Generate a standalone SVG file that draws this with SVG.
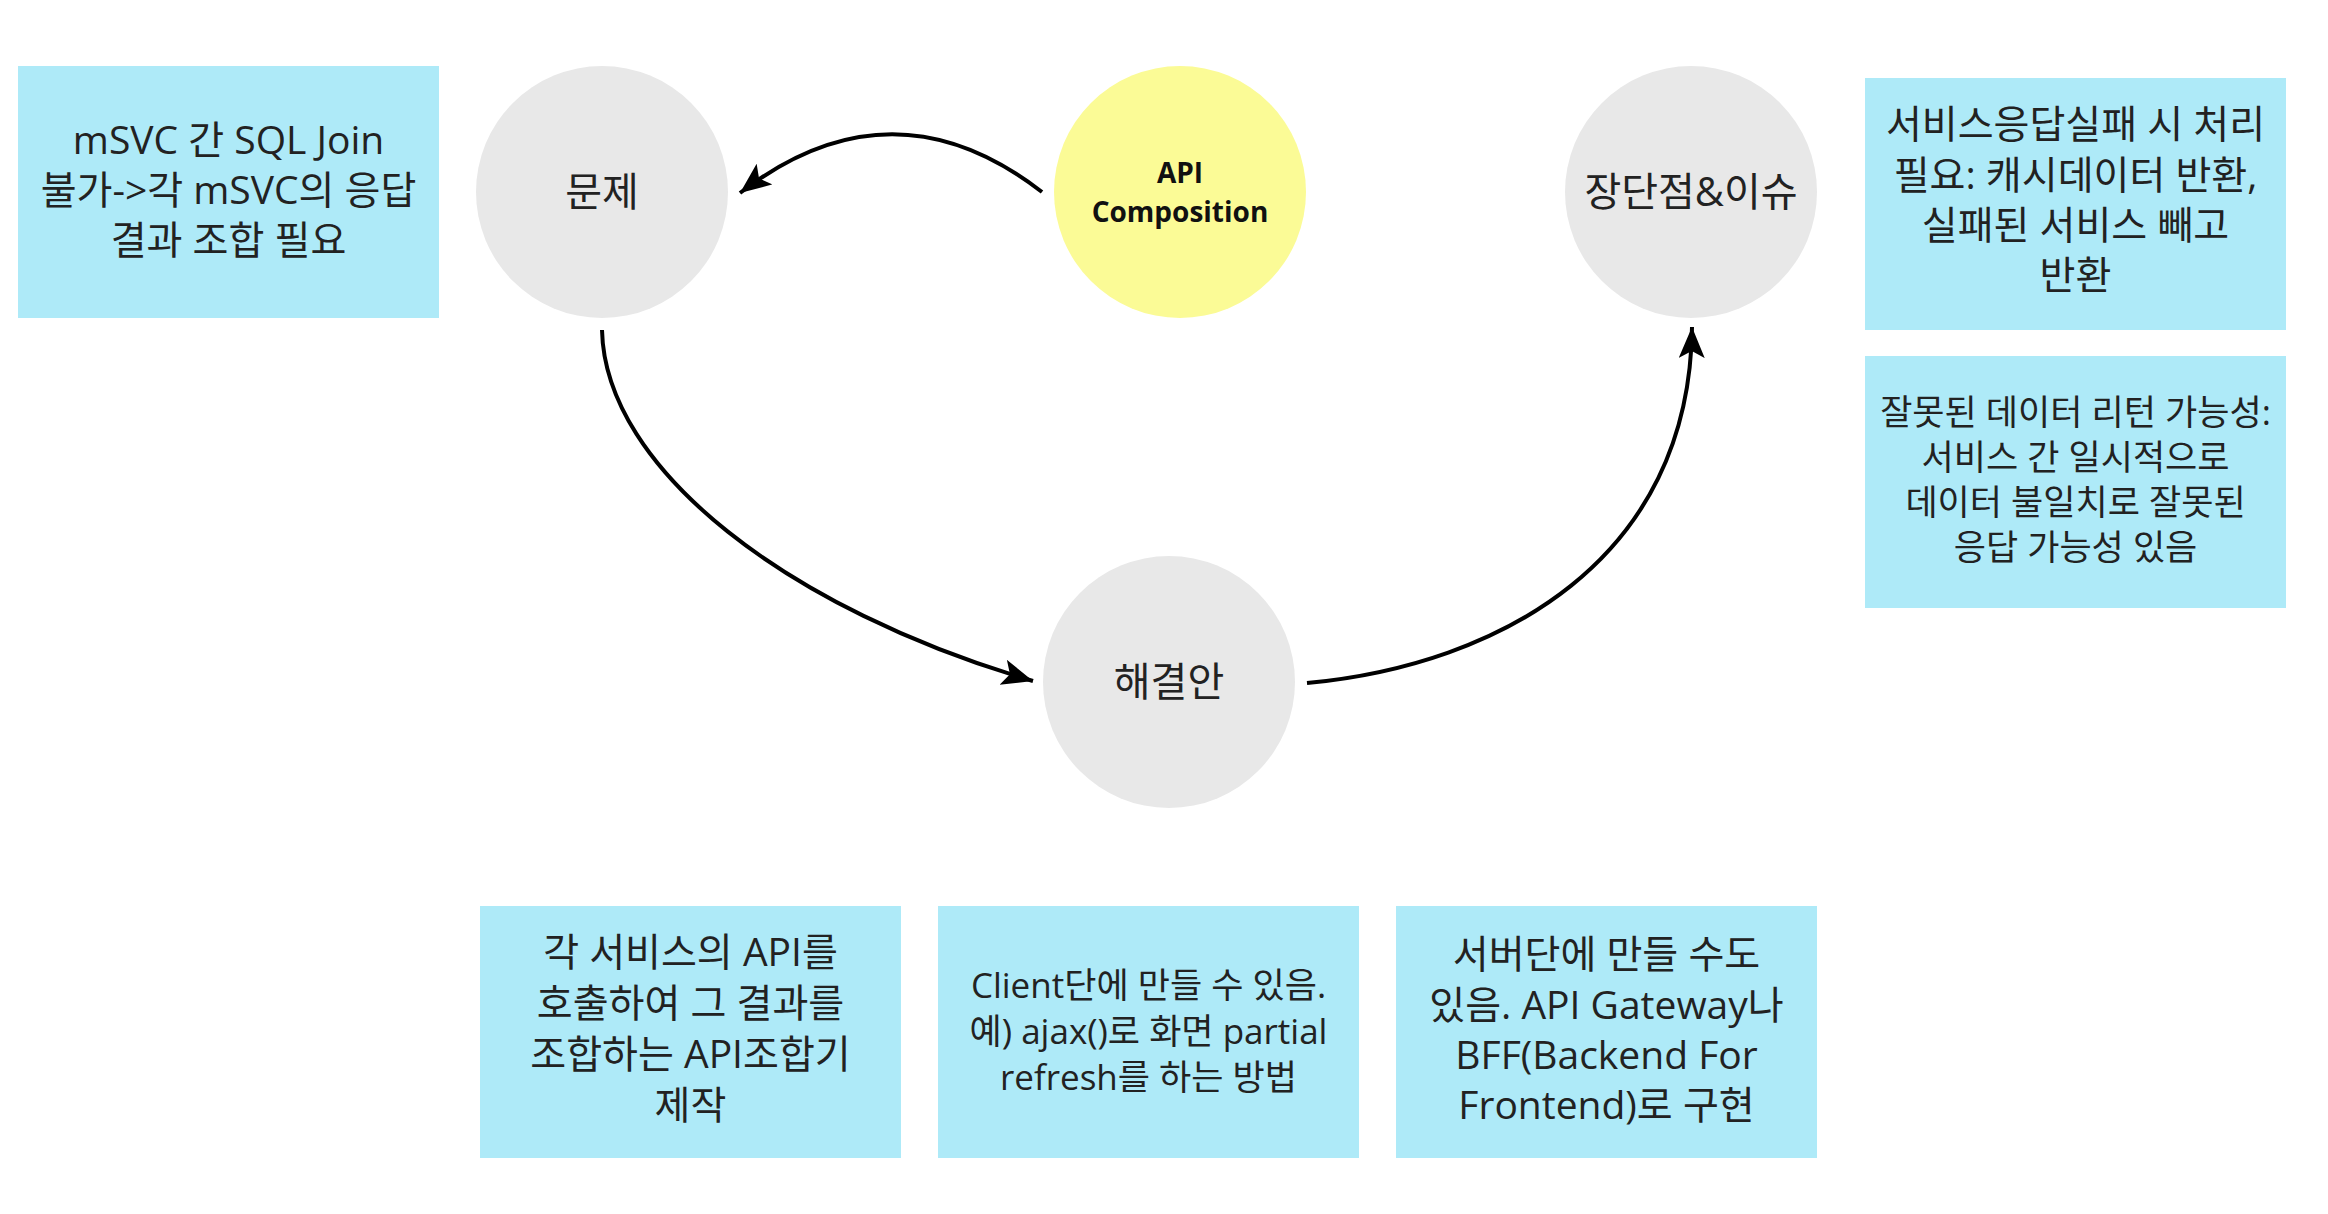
<svg xmlns="http://www.w3.org/2000/svg" width="2328" height="1214" viewBox="0 0 2328 1214">
<style>
.box{fill:#AEEAF8}
.circ{fill:#E8E8E8}
.yel{fill:#FBFB96}
text{font-family:"Open Sans","Noto Sans CJK KR",sans-serif;fill:#222;text-anchor:middle}
.t36{font-size:39px}
.t32{font-size:35px}
.lbl{font-size:40px}
.bold{font-family:"Open Sans","Noto Sans CJK KR",sans-serif;font-weight:bold;font-size:28px;fill:#111}
.edge{fill:none;stroke:#000;stroke-width:4}
</style>
<defs>
<marker id="arr" markerUnits="userSpaceOnUse" markerWidth="36" markerHeight="30" refX="31" refY="13" orient="auto">
<path d="M0,0 L31,13 L0,26 L7,13 Z" fill="#000"/>
</marker>
</defs>
<rect width="2328" height="1214" fill="#fff"/>
<g id="connectors">
<path class="edge" d="M1042,192 Q892,76 740,193" marker-end="url(#arr)"/>
<path class="edge" d="M602,330 C605,470 790,610 1033,681" marker-end="url(#arr)"/>
<path class="edge" d="M1307,683 C1500,665 1690,560 1692,327" marker-end="url(#arr)"/>
</g>
<g id="node-problem-note">
<rect class="box" x="18" y="66" width="421" height="252"/>
<text class="t36" x="228.5" y="154">mSVC 간 SQL Join</text>
<text class="t36" x="228.5" y="204">불가-&gt;각 mSVC의 응답</text>
<text class="t36" x="228.5" y="254">결과 조합 필요</text>
</g>
<g id="node-problem">
<circle class="circ" cx="602" cy="192" r="126"/>
<text class="lbl" x="602" y="206">문제</text>
</g>
<g id="node-api-composition">
<circle class="yel" cx="1180" cy="192" r="126"/>
<text class="bold" x="1180" y="183">API</text>
<text class="bold" x="1180" y="222">Composition</text>
</g>
<g id="node-issues">
<circle class="circ" cx="1691" cy="192" r="126"/>
<text class="lbl" x="1691" y="206">장단점&amp;이슈</text>
</g>
<g id="node-issue-1">
<rect class="box" x="1865" y="78" width="421" height="252"/>
<text class="t36" x="2075.5" y="138">서비스응답실패 시 처리</text>
<text class="t36" x="2075.5" y="189">필요: 캐시데이터 반환,</text>
<text class="t36" x="2075.5" y="239">실패된 서비스 빼고</text>
<text class="t36" x="2075.5" y="289">반환</text>
</g>
<g id="node-issue-2">
<rect class="box" x="1865" y="356" width="421" height="252"/>
<text class="t32" x="2075.5" y="425">잘못된 데이터 리턴 가능성:</text>
<text class="t32" x="2075.5" y="470">서비스 간 일시적으로</text>
<text class="t32" x="2075.5" y="515">데이터 불일치로 잘못된</text>
<text class="t32" x="2075.5" y="560">응답 가능성 있음</text>
</g>
<g id="node-solution">
<circle class="circ" cx="1169" cy="682" r="126"/>
<text class="lbl" x="1169" y="696">해결안</text>
</g>
<g id="node-solution-1">
<rect class="box" x="480" y="906" width="421" height="252"/>
<text class="t36" x="690.5" y="966">각 서비스의 API를</text>
<text class="t36" x="690.5" y="1017">호출하여 그 결과를</text>
<text class="t36" x="690.5" y="1068">조합하는 API조합기</text>
<text class="t36" x="690.5" y="1119">제작</text>
</g>
<g id="node-solution-2">
<rect class="box" x="938" y="906" width="421" height="252"/>
<text class="t32" x="1148.5" y="998">Client단에 만들 수 있음.</text>
<text class="t32" x="1148.5" y="1044">예) ajax()로 화면 partial</text>
<text class="t32" x="1148.5" y="1090">refresh를 하는 방법</text>
</g>
<g id="node-solution-3">
<rect class="box" x="1396" y="906" width="421" height="252"/>
<text class="t36" x="1606.5" y="968">서버단에 만들 수도</text>
<text class="t36" x="1606.5" y="1019">있음. API Gateway나</text>
<text class="t36" x="1606.5" y="1069">BFF(Backend For</text>
<text class="t36" x="1606.5" y="1119">Frontend)로 구현</text>
</g>
</svg>
